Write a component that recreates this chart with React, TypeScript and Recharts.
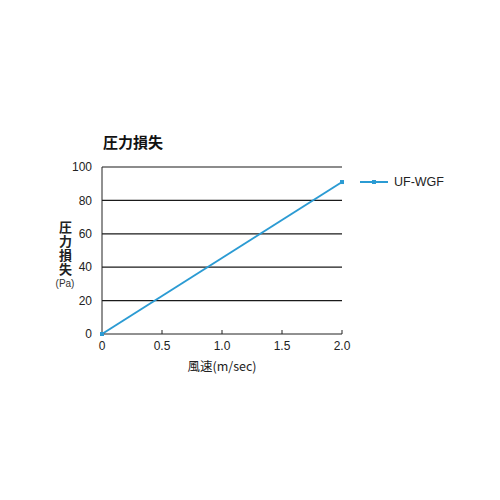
import React from "react";
import { LineChart, Line, XAxis, YAxis, CartesianGrid, Legend } from "recharts";

const speeds = [0, 2.0];
const pressureLoss = [0, 91];
const xTicks = [0, 0.5, 1.0, 1.5, 2.0];
const yTicks = [0, 20, 40, 60, 80, 100];
const seriesName = "UF-WGF";

const data = speeds.map((s, i) => ({ speed: s, loss: pressureLoss[i] }));

const LINE_COLOR = "#2b9bd3";
const FONT = "'Liberation Sans', Arial, sans-serif";

const XTick = (props: any) => {
  const { x, y, payload } = props;
  const v = payload.value as number;
  const label = v === 0 ? "0" : v.toFixed(1);
  return (
    <g>
      {v !== 0 && <line x1={x} x2={x} y1={y} y2={y - 4} stroke="#222" strokeWidth={1} />}
      <text x={x} y={y + 16} textAnchor="middle" fontSize={12} fill="#222" fontFamily={FONT}>
        {label}
      </text>
    </g>
  );
};

const Square = (props: any) => {
  const { cx, cy } = props;
  if (cx == null || cy == null) return null;
  return <rect x={cx - 2} y={cy - 2} width={4} height={4} fill={LINE_COLOR} />;
};

const LegendContent = (props: any) => {
  const { payload } = props;
  return (
    <div style={{ fontFamily: FONT }}>
      {(payload || []).map((p: any) => (
        <div key={p.value} style={{ display: "flex", alignItems: "center" }}>
          <svg width={32} height={12}>
            <line x1={1} x2={29} y1={6} y2={6} stroke={LINE_COLOR} strokeWidth={2} />
            <rect x={13} y={4} width={4} height={4} fill={LINE_COLOR} />
          </svg>
          <span style={{ fontSize: 12.5, color: "#222", marginLeft: 3 }}>{p.value}</span>
        </div>
      ))}
    </div>
  );
};

export default function App() {
  return (
    <div style={{ position: "absolute", left: 0, top: 0, width: 500, height: 500, background: "#fff" }}>
      <div
        style={{
          position: "absolute",
          left: 103,
          top: 131,
          fontSize: 15,
          fontWeight: "bold",
          fontFamily: "'Noto Sans CJK JP', sans-serif",
          color: "#111",
        }}
      >
        圧力損失
      </div>
      <div
        style={{
          position: "absolute",
          left: 56,
          top: 221,
          writingMode: "vertical-rl",
          textOrientation: "upright",
          fontSize: 13,
          lineHeight: "18px",
          letterSpacing: "1px",
          fontWeight: "bold",
          fontFamily: "'Noto Sans CJK JP', sans-serif",
          color: "#222",
        }}
      >
        圧力損失
      </div>
      <div
        style={{
          position: "absolute",
          left: 52,
          top: 278,
          width: 26,
          textAlign: "center",
          fontSize: 10,
          fontFamily: FONT,
          color: "#333",
        }}
      >
        (Pa)
      </div>
      <div
        style={{
          position: "absolute",
          left: 152,
          width: 140,
          top: 356,
          textAlign: "center",
          fontSize: 12.5,
          fontFamily: "'Noto Sans CJK JP', sans-serif",
          color: "#222",
        }}
      >
        風速(m/sec)
      </div>
      <div style={{ position: "absolute", left: 0, top: 0 }}>
        <LineChart
          width={500}
          height={500}
          data={data}
          margin={{ top: 167, right: 158, bottom: 136, left: 72 }}
        >
          <CartesianGrid vertical={false} stroke="#1a1a1a" strokeWidth={1.2} horizontalValues={[20, 40, 60, 80, 100]} />
          <XAxis
            dataKey="speed"
            type="number"
            domain={[0, 2]}
            ticks={xTicks}
            height={30}
            tickSize={0}
            tickMargin={0}
            tickLine={false}
            axisLine={{ stroke: "#222" }}
            tick={<XTick />}
            interval={0}
          />
          <YAxis
            type="number"
            domain={[0, 100]}
            ticks={yTicks}
            width={30}
            tickLine={false}
            tickMargin={4}
            axisLine={{ stroke: "#222" }}
            tick={{ fontSize: 12, fill: "#222", fontFamily: FONT }}
            interval={0}
          />
          <Legend
            layout="horizontal"
            verticalAlign="middle"
            align="center"
            content={<LegendContent />}
            wrapperStyle={{ position: "absolute", left: 359, top: 175, width: 110 }}
          />
          <Line
            name={seriesName}
            dataKey="loss"
            stroke={LINE_COLOR}
            strokeWidth={2}
            dot={<Square />}
            isAnimationActive={false}
          />
        </LineChart>
      </div>
    </div>
  );
}
